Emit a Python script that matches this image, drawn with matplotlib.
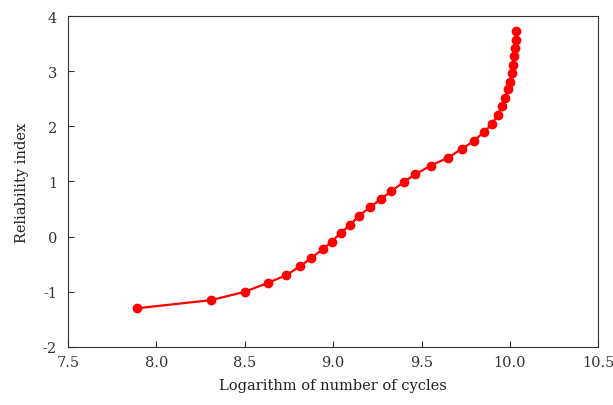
import matplotlib.pyplot as plt

log_cycles = [7.888, 8.311, 8.500, 8.629, 8.734, 8.812, 8.874, 8.941, 8.992,
              9.043, 9.095, 9.146, 9.208, 9.268, 9.328, 9.398, 9.464, 9.553,
              9.649, 9.727, 9.794, 9.854, 9.899, 9.930, 9.954, 9.972, 9.988,
              10.001, 10.010, 10.017, 10.023, 10.028, 10.032, 10.037]
reliability = [-1.30, -1.15, -1.00, -0.84, -0.70, -0.54, -0.39, -0.23, -0.09,
               0.07, 0.21, 0.38, 0.53, 0.68, 0.82, 0.99, 1.13, 1.29,
               1.43, 1.59, 1.73, 1.90, 2.04, 2.20, 2.36, 2.51, 2.67,
               2.81, 2.96, 3.12, 3.27, 3.42, 3.57, 3.73]

plt.rcParams['font.family'] = ['DejaVu Serif']
plt.rcParams['axes.unicode_minus'] = False

fig = plt.figure(figsize=(6.13, 4.06), dpi=100)
ax = fig.add_axes([0.111, 0.143, 0.865, 0.815])
ax.plot(log_cycles, reliability, color='#ff0000', linewidth=1.6,
        marker='o', markersize=6)
ax.set_xlim(7.5, 10.5)
ax.set_ylim(-2, 4)
ax.set_xticks([7.5, 8.0, 8.5, 9.0, 9.5, 10.0, 10.5])
ax.set_xticklabels(['7.5', '8.0', '8.5', '9.0', '9.5', '10.0', '10.5'])
ax.set_yticks([-2, -1, 0, 1, 2, 3, 4])
ax.tick_params(direction='in', labelsize=10.5, colors='#333333', length=4)
ax.tick_params(axis='y', pad=8)
ax.tick_params(axis='x', pad=6)
for s in ax.spines.values():
    s.set_color('#333333')
ax.set_xlabel('Logarithm of number of cycles', fontsize=10.5, color='#222222', labelpad=6)
ax.set_ylabel('Reliability index', fontsize=10.5, color='#222222', labelpad=10)
fig.savefig('out.png', dpi=100)
